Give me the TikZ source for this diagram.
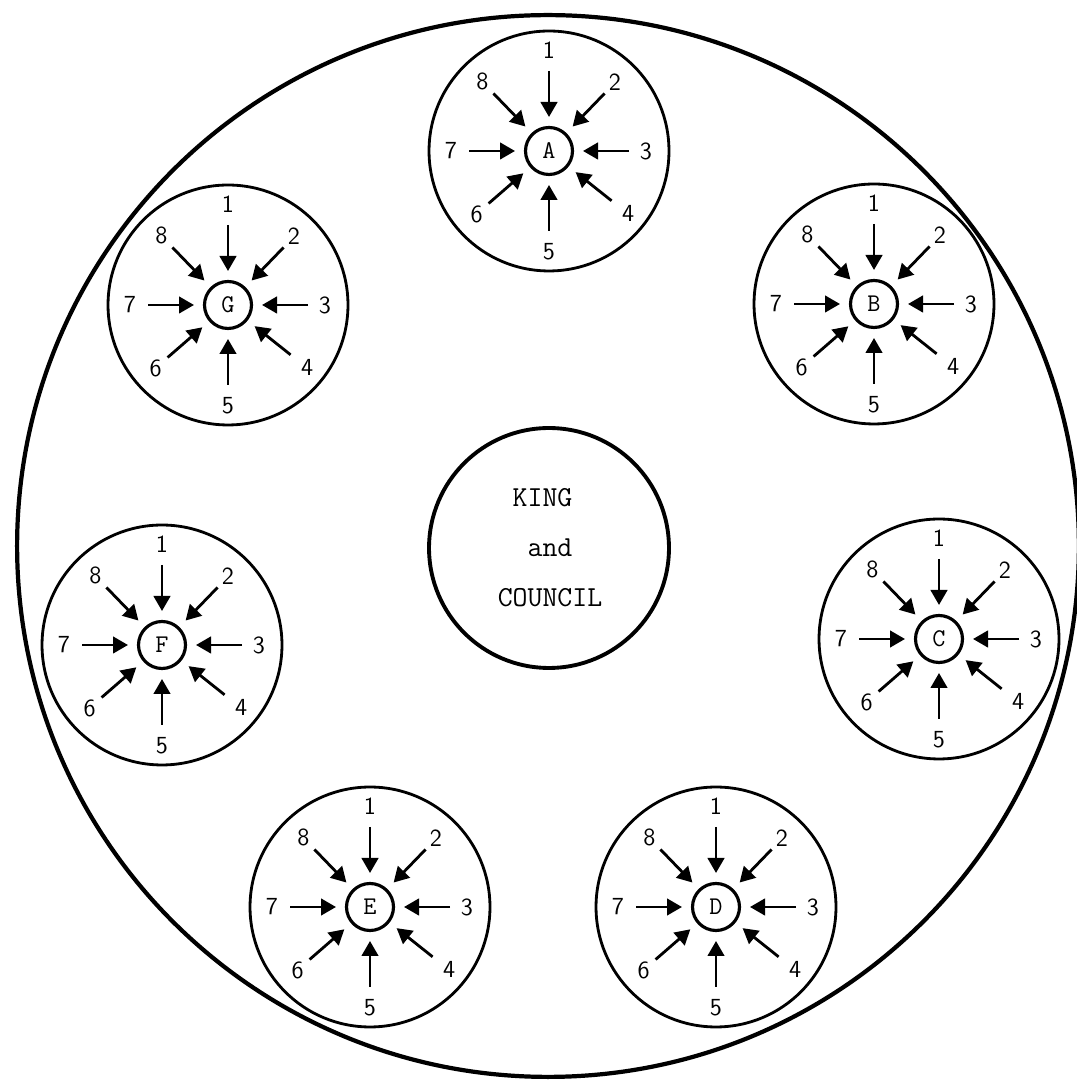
\documentclass[tikz,border=0pt]{standalone}
\usepackage{fontspec}
\usetikzlibrary{arrows.meta,calc}
\tikzset{
  realm/.style={circle,draw,line width=2.4pt,minimum size=21.24cm,inner sep=0pt},
  kingc/.style={circle,draw,line width=2.2pt,minimum size=4.8cm,inner sep=0pt},
  kingtxt/.style={align=left,inner sep=0pt,font=\ttfamily\fontsize{16.5}{28.5}\selectfont},
  outerc/.style={circle,draw,line width=1.6pt,minimum size=4.8cm,inner sep=0pt},
  innerc/.style={circle,draw,line width=1.8pt,minimum size=0.94cm,inner sep=0pt,font=\ttfamily\fontsize{14.5}{16}\selectfont},
  arr/.style={line width=1.6pt,-{Triangle[length=0.3cm,width=0.33cm]}},
  num/.style={font=\sffamily\fontsize{14}{16}\selectfont,inner sep=0pt}
}
\newcommand\mkstation[3]{%
  \node[outerc] (#1o) at (#2,#3) {};
  \node[innerc] (#1) at (#2,#3) {#1};
  \foreach \i/\ang/\lr in {1/90/101,2/46/95,3/0/97,4/-38.5/101,5/-90/101,6/-139/96,7/180/98,8/134/96}{
    \coordinate (#1s\i) at ($(#1)+(\ang:80)$);
    \coordinate (#1t\i) at ($(#1)+(\ang:34)$);
    \draw[arr] (#1s\i) -- (#1t\i);
    \node[num] (#1n\i) at ($(#1)+(\ang:\lr)$) {\i};
  }
}
\begin{document}
\begin{tikzpicture}[x=0.02cm,y=0.02cm]
\path[use as bounding box] (0,0) rectangle (1077,1081);
\clip (0,0) rectangle (1077,1081);
\fill[white] (0,0) rectangle (1077,1081);
\node[realm] (realm) at (548,535) {};
\node[kingc] (king) at (549,533) {};
\node[kingtxt] (kingtext) at (550,533) {\hphantom{X}KING\\\hphantom{XX}and\\COUNCIL};
\mkstation{A}{549}{930}
\mkstation{B}{874}{777}
\mkstation{C}{939}{442}
\mkstation{D}{716}{174}
\mkstation{E}{370}{174}
\mkstation{F}{162}{436}
\mkstation{G}{228}{776}
\end{tikzpicture}
\end{document}
